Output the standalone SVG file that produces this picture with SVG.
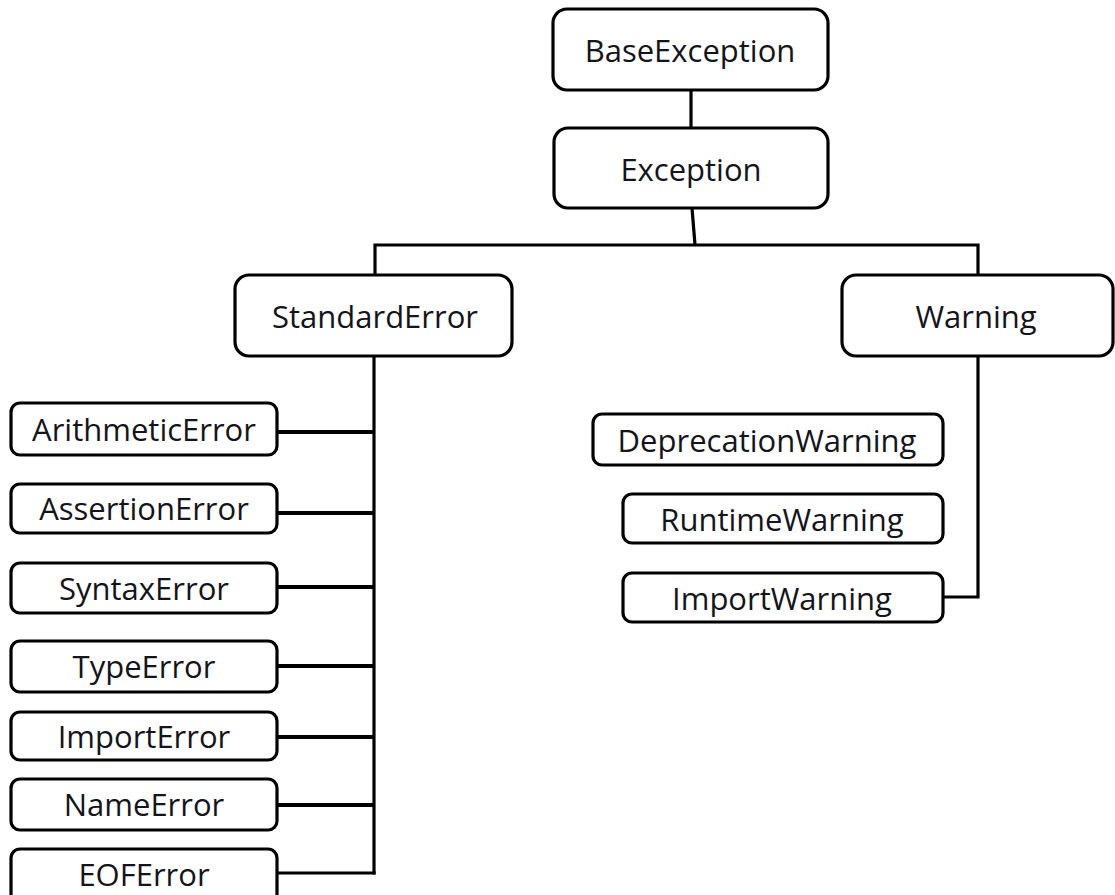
<svg xmlns="http://www.w3.org/2000/svg" width="1115" height="895" viewBox="0 0 1115 895">
<style>
.big{fill:#fff;stroke:#000;stroke-width:3.2}
.small{fill:#fff;stroke:#000;stroke-width:3.2}
.t{font-family:"Open Sans","Noto Sans","DejaVu Sans",sans-serif;font-size:31px;fill:#14141c;text-anchor:middle}
.c{fill:none;stroke:#000;stroke-width:3.2;stroke-linejoin:miter}
.cb{fill:none;stroke:#000;stroke-width:4}
</style>
<rect width="1115" height="895" fill="#fff"/>
<g id="connectors">
<line class="c" x1="691" y1="90" x2="691" y2="128"/>
<line class="c" x1="692" y1="208" x2="695" y2="245"/>
<polyline class="c" points="375,275 375,245 978,245 978,275"/>
<line class="c" x1="374" y1="356" x2="374" y2="874.5"/>
<polyline class="c" points="978,356 978,597 943,597"/>
<line class="cb" x1="277" y1="432" x2="374" y2="432"/>
<line class="cb" x1="277" y1="513" x2="374" y2="513"/>
<line class="cb" x1="277" y1="587" x2="374" y2="587"/>
<line class="cb" x1="277" y1="666" x2="374" y2="666"/>
<line class="cb" x1="277" y1="737" x2="374" y2="737"/>
<line class="cb" x1="277" y1="805" x2="374" y2="805"/>
<line class="c" x1="277" y1="873" x2="375.6" y2="873"/>
</g>
<g id="BaseException"><rect class="big" x="553" y="9" width="275" height="81" rx="14"/><text class="t" x="690" y="62">BaseException</text></g>
<g id="Exception"><rect class="big" x="554" y="128" width="274" height="80" rx="14"/><text class="t" x="691" y="181">Exception</text></g>
<g id="StandardError"><rect class="big" x="235" y="275" width="277" height="81" rx="14"/><text class="t" x="375" y="328">StandardError</text></g>
<g id="Warning"><rect class="big" x="842" y="275" width="271" height="81" rx="14"/><text class="t" x="976" y="328">Warning</text></g>
<g id="ArithmeticError"><rect class="small" x="11" y="403" width="266" height="52" rx="9"/><text class="t" x="144" y="441">ArithmeticError</text></g>
<g id="AssertionError"><rect class="small" x="11" y="484" width="266" height="49" rx="9"/><text class="t" x="144" y="520">AssertionError</text></g>
<g id="SyntaxError"><rect class="small" x="11" y="563" width="266" height="50" rx="9"/><text class="t" x="144" y="600">SyntaxError</text></g>
<g id="TypeError"><rect class="small" x="11" y="641" width="266" height="51" rx="9"/><text class="t" x="144" y="678">TypeError</text></g>
<g id="ImportError"><rect class="small" x="11" y="712" width="266" height="48" rx="9"/><text class="t" x="144" y="748">ImportError</text></g>
<g id="NameError"><rect class="small" x="11" y="779" width="266" height="51" rx="9"/><text class="t" x="144" y="816">NameError</text></g>
<g id="EOFError"><rect class="small" x="11" y="849" width="266" height="60" rx="9"/><text class="t" x="144" y="886">EOFError</text></g>
<g id="DeprecationWarning"><rect class="small" x="593" y="414" width="350" height="51" rx="9"/><text class="t" x="767" y="452">DeprecationWarning</text></g>
<g id="RuntimeWarning"><rect class="small" x="623" y="494" width="320" height="49" rx="9"/><text class="t" x="782" y="531">RuntimeWarning</text></g>
<g id="ImportWarning"><rect class="small" x="623" y="573" width="320" height="49" rx="9"/><text class="t" x="782" y="610">ImportWarning</text></g>
</svg>
